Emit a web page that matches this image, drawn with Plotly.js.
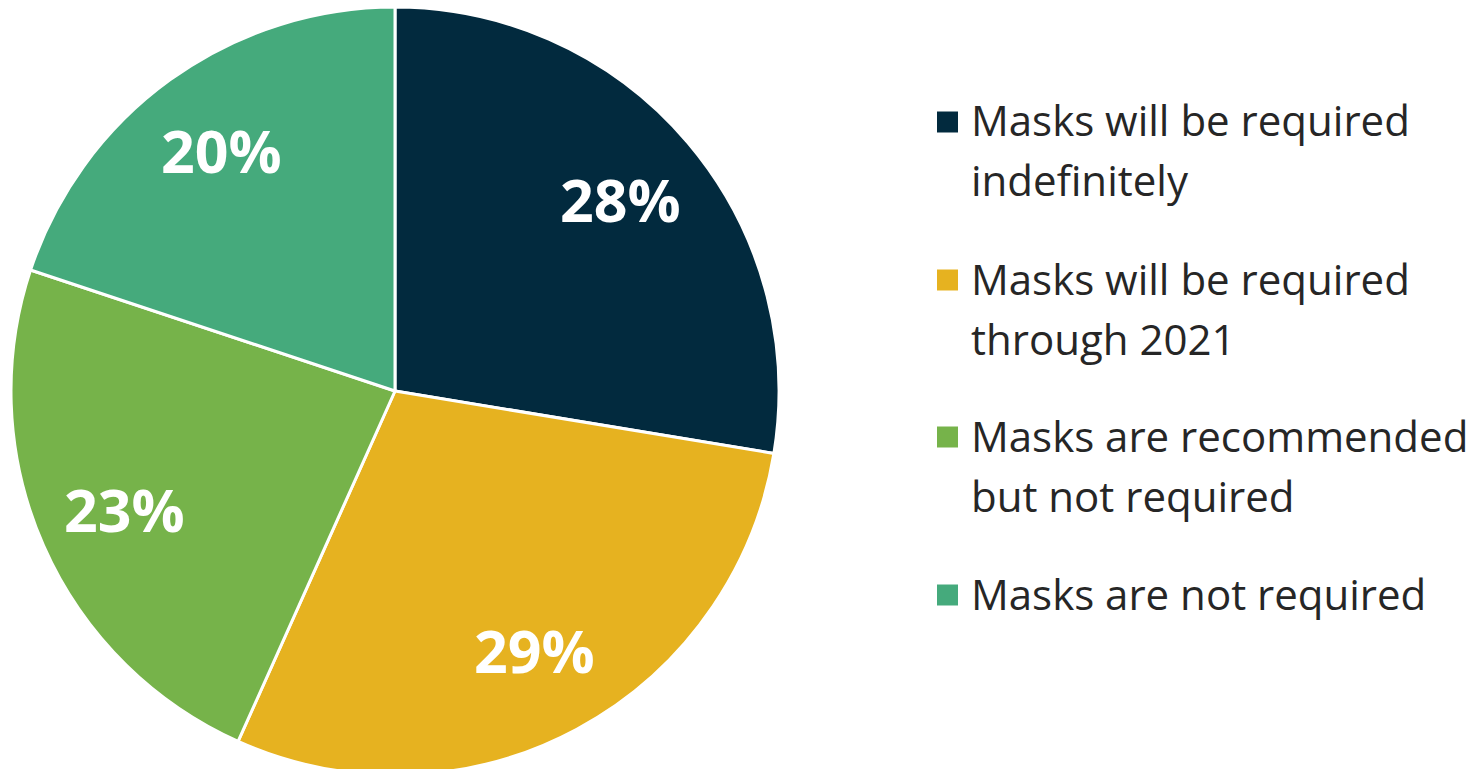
<!DOCTYPE html>
<html>
<head>
<meta charset="utf-8">
<script src="https://cdn.plot.ly/plotly-3.0.1.min.js"></script>
<style>
html,body{margin:0;padding:0;overflow:hidden;background:#fff;}
#chart{width:1472px;height:775px;}
</style>
</head>
<body>
<div id="chart"></div>
<script>
const categories = [
  "Masks will be required indefinitely",
  "Masks will be required through 2021",
  "Masks are recommended but not required",
  "Masks are not required"
];
const legendLines = [
  ["Masks will be required", "indefinitely"],
  ["Masks will be required", "through 2021"],
  ["Masks are recommended", "but not required"],
  ["Masks are not required"]
];
const values = [27.6, 29.1, 23.4, 19.9];
const colors = ["#022A3E", "#E6B220", "#76B34A", "#45AA7C"];

const W = 1472, H = 775, MT = 7;
const px2x = px => px / W;
const py2y = py => (H - py) / (H - MT);

const FONT = "'Open Sans', Lato, sans-serif";
const annotations = [];
const shapes = [];
const legendTop = [122, 280, 437, 595];
const lineGap = 60;
legendLines.forEach((lines, i) => {
  const yc = legendTop[i];
  shapes.push({
    type: "rect", xref: "paper", yref: "paper",
    x0: px2x(937), x1: px2x(958),
    y0: py2y(yc - 10.5), y1: py2y(yc + 10.5),
    fillcolor: colors[i], line: {width: 0}
  });
  lines.forEach((t, j) => {
    annotations.push({
      text: t, xref: "paper", yref: "paper",
      x: px2x(969), y: py2y(yc - 2 + j * lineGap),
      xanchor: "left", yanchor: "middle", showarrow: false,
      font: {family: FONT, size: 42, color: "#262626"}
    });
  });
});

// slice labels at mid-angle of each slice
const total = values.reduce((a, b) => a + b, 0);
const cx = 395, cy = 391, R = 384, rFrac = 0.77;
let cum = 0;
values.forEach((v, i) => {
  const mid = (cum + v / 2) / total * 2 * Math.PI;
  cum += v;
  const lx = cx + rFrac * R * Math.sin(mid);
  const ly = cy - rFrac * R * Math.cos(mid);
  annotations.push({
    text: Math.round(v / total * 100) + "%",
    xref: "paper", yref: "paper",
    x: px2x(lx), y: py2y(ly - 1),
    xanchor: "center", yanchor: "middle", showarrow: false,
    font: {family: FONT, size: 59, color: "#ffffff", weight: 700}
  });
});

const trace = {
  type: "pie",
  labels: categories,
  values: values,
  sort: false,
  direction: "clockwise",
  rotation: 0,
  marker: {colors: colors, line: {color: "#ffffff", width: 3}},
  textinfo: "none",
  hoverinfo: "label+percent",
  showlegend: false,
  domain: {x: [0, 790 / W], y: [0, 1]}
};

const layout = {
  width: W, height: H,
  margin: {l: 0, r: 0, t: MT, b: 0},
  paper_bgcolor: "#ffffff",
  plot_bgcolor: "#ffffff",
  showlegend: false,
  annotations: annotations,
  shapes: shapes
};

Plotly.newPlot("chart", [trace], layout, {displayModeBar: false, staticPlot: true});
</script>
</body>
</html>
